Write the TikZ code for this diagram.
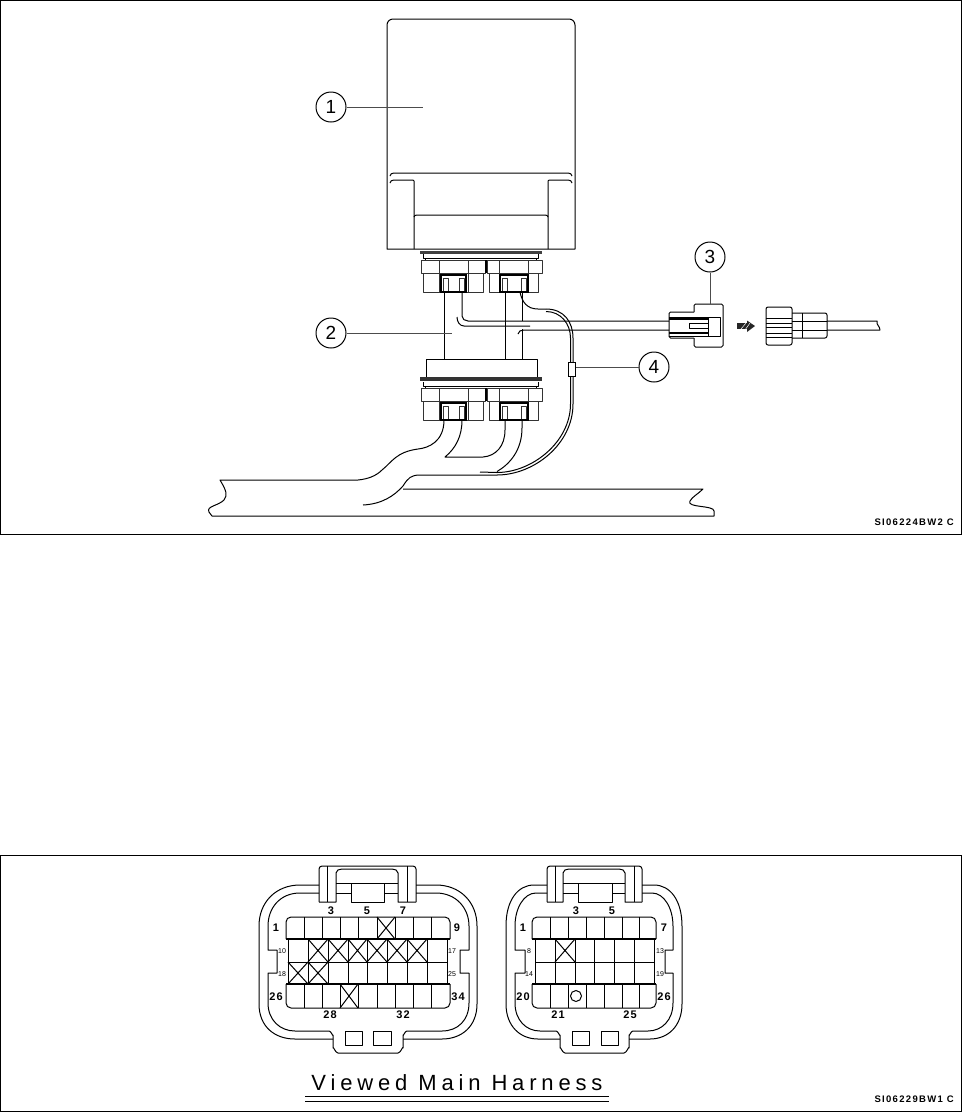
\documentclass[tikz,border=0pt]{standalone}
\usepackage{fontspec}
\setmainfont{Liberation Sans}
\newfontfamily\wideface[LetterSpace=22]{Liberation Sans}
\newfontfamily\codeface[LetterSpace=14]{Liberation Sans}
\newfontfamily\pinface[LetterSpace=10]{Liberation Sans}
\tikzset{
    callout/.style={draw,circle,line width=1pt,minimum size=30pt,inner sep=0pt,font=\fontsize{19}{19}\selectfont},
    leader/.style={line width=1pt,black!70},
    edge/.style={line width=1pt,line join=round},
    heavy/.style={line width=1.2pt},
    pin/.style={inner sep=0pt,font=\pinface\bfseries\fontsize{11}{11}\selectfont},
    tinypin/.style={inner sep=0pt,font=\fontsize{7}{7}\selectfont},
    code/.style={inner sep=0pt,anchor=east,font=\codeface\bfseries\fontsize{9.5}{10}\selectfont}
}
% one half of a plug, upper left corner of its collar at x, y
\newcommand{\plughalf}[9]{
    \draw[edge,black!80] (#1,#5) rectangle (#2,#5+13);
    \draw[edge,black!80] (#3,#5+13) -- (#3,#5+32) -- (#4,#5+32) -- (#4,#5+13);
    \draw[edge,black!80] (#6,#5) -- (#6,#5+32);
    \draw[edge,black!80] (#7,#5) -- (#7,#5+32);
    \draw[heavy] (#8,#5+15) rectangle (#9,#5+32);
    \draw[edge,black!80] (#8+2,#5+32) -- (#8+2,#5+18) -- (#8+7,#5+18) -- (#8+7,#5+32);
    \draw[edge,black!80] (#9-2,#5+32) -- (#9-2,#5+18) -- (#9-7,#5+18) -- (#9-7,#5+32);
    \draw[line width=1.8pt] (#8,#5+32) -- (#9,#5+32);
}
\begin{document}
\begin{tikzpicture}[x=1pt,y=-1pt]
\useasboundingbox (0,0) rectangle (962,1112);
% frames
\draw[line width=1pt] (0.5,0.5) rectangle (961,534);
\draw[line width=1pt] (0.5,855) rectangle (961,1111);

% unit
\draw[edge] (387,249) -- (387,25) to[out=90,in=180] (393,19) -- (569,19) to[out=0,in=90] (575,25) -- (575,249) -- cycle;
\draw[edge] (390,176) to[out=90,in=180] (394,173) -- (568,173) to[out=0,in=90] (572,176);
\draw[edge] (390,183) to[out=90,in=180] (394,180) -- (413,180);
\draw[edge] (572,183) to[out=90,in=0] (568,180) -- (549,180);
\draw[edge] (414,249) -- (414,181) to[out=90,in=0] (413,180);
\draw[edge] (548,249) -- (548,181) to[out=90,in=180] (549,180);
\draw[edge] (414,217) to[out=90,in=180] (417,215) -- (545,215) to[out=0,in=90] (548,217);
\draw[line width=3pt,black!75] (420,252) -- (542,252);
\draw[edge] (423,254) -- (423,258) -- (538,258) -- (538,254);
\draw[edge] (425,258) -- (425,260);
\draw[edge] (536,258) -- (536,260);

% upper plugs
\plughalf{421}{485}{423}{483}{260}{439}{468}{441}{466}
\plughalf{487}{542}{489}{538}{260}{499}{528}{500}{528}
\draw[line width=1.6pt] (486,260) -- (486,273);

% wires between the plugs
\draw[edge] (444,292) -- (444,359);
\draw[edge] (505,292) -- (505,359);
\draw[edge] (462,292) -- (462,316) to[out=-90,in=180] (468,321) -- (669,321);
\draw[edge] (457,317) to[out=-90,in=180] (464,326) -- (530,326);
\draw[edge] (522,292) -- (522,321);
\draw[edge] (518,334) to[out=90,in=180] (524,330) -- (669,330);
\draw[edge] (522,329) -- (522,359);

% lower plugs
\draw[edge] (426,377) -- (426,359) -- (537,359) -- (537,377);
\draw[line width=3.4pt,black!80] (420,379) -- (542,379);
\draw[edge] (423,382) -- (423,386) -- (538,386) -- (538,382);
\draw[edge] (425,386) -- (425,388);
\draw[edge] (536,386) -- (536,388);
\plughalf{421}{485}{423}{483}{388}{439}{468}{441}{466}
\plughalf{487}{542}{489}{538}{388}{499}{528}{500}{528}
\draw[line width=1.6pt] (486,388) -- (486,401);

% harness
\draw[edge] (444,420) .. controls (444,442) and (428,448) .. (418,449)
    .. controls (396,452) and (392,462) .. (382,470)
    .. controls (376,476) and (368,479) .. (358,480) -- (220,480)
    .. controls (226,490) and (228,495) .. (224,500)
    .. controls (218,506) and (206,506) .. (209,512) -- (212,516) -- (714,516) -- (714,511)
    .. controls (714,505) and (686,508) .. (690,501)
    .. controls (692,497) and (698,494) .. (703,489) -- (403,489);
\draw[edge] (363,505) .. controls (382,504) and (394,496) .. (403,486)
    .. controls (408,478) and (411,475) .. (420,475) -- (497,475);
\draw[edge] (462,420) .. controls (462,436) and (456,448) .. (445,457) -- (483,457)
    .. controls (496,456) and (505,446) .. (505,430) -- (505,420);
\draw[edge] (522,420) -- (522,428) .. controls (522,450) and (510,464) .. (497,471.5);

% thin wire with its sleeve
\draw[edge] (520,292) .. controls (522,302) and (527,309) .. (538,309) -- (546,309);
\draw[edge] (546,309) .. controls (564,309) and (573,322) .. (573,338) -- (573,362);
\draw[edge] (546,311.5) .. controls (561,311.5) and (570.5,324) .. (570.5,338) -- (570.5,362);
\draw[edge] (573,376) -- (573,404) .. controls (573,444) and (534,475) .. (497,475);
\draw[edge] (570.5,376) -- (570.5,404) .. controls (570.5,442) and (532,472.5) .. (497,472.5) -- (480,472);
\node[draw,line width=1pt,minimum width=7pt,minimum height=14pt,inner sep=0pt] (sleeve) at (571.5,369) {};

% connector being pulled apart
\draw[edge,rounded corners=1.5pt] (694,312) -- (669,312) -- (669,338) -- (694,338);
\draw[edge,rounded corners=1.5pt] (694,312) -- (694,304) -- (723,304) -- (723,347) -- (694,347) -- (694,338);
\draw[edge] (669,317) -- (720,317) -- (720,336) -- (669,336);
\draw[line width=1.6pt] (669,319) -- (708,319);
\draw[line width=1.6pt] (669,333) -- (708,333);
\draw[edge] (708,317) -- (708,336);
\draw[edge] (708,323) -- (689,323) -- (689,328) -- (708,328);
\node[fill=black!85,inner sep=0pt,minimum width=11pt,minimum height=6pt] (arrowtail) at (742.5,326) {};
\fill[black!85] (747,320.5) -- (755,326) -- (747,332) -- cycle;
\draw[white,line width=0.5pt] (741,329) -- (746,323) (745,330) -- (750,323);

\draw[edge,rounded corners=2pt] (766,307) rectangle (792,345);
\foreach \ribY in {318,323,327,333,337}
    \draw[edge] (766,\ribY) -- (792,\ribY);
\draw[edge,rounded corners=2pt] (792,313) -- (827,313) -- (827,338) -- (792,338);
\draw[edge] (802,313) -- (802,338);
\draw[edge] (792,321) -- (827,321);
\draw[edge] (792,330) -- (827,330);
\draw[edge] (827,321) -- (877,321) .. controls (876,325) and (880,326) .. (880,330) -- (827,330);

% callouts
\node[callout] (one) at (331,107) {1};
\coordinate (oneend) at (423,107);
\draw[leader] (one) -- (oneend);
\node[callout] (two) at (331,333) {2};
\coordinate (twoend) at (452,333);
\draw[leader] (two) -- (twoend);
\node[callout] (three) at (710,257) {3};
\coordinate (threeend) at (710,304);
\draw[leader] (three) -- (threeend);
\node[callout] (four) at (654,367) {4};
\draw[leader] (four) -- (sleeve.east |- four);

\node[code] (codetop) at (954,522) {SI06224BW2 C};

% left socket
\draw[edge] (319,885) -- (300,885) .. controls (276,885) and (259,902) .. (259,926) -- (259,1004)
    .. controls (259,1026) and (274,1039) .. (295,1039) -- (333,1039);
\draw[edge] (319,893) -- (300,893) .. controls (280,893) and (268,908) .. (268,926) -- (268,950) -- (277,950) -- (277,973) -- (268,973) -- (268,1003)
    .. controls (268,1020) and (280,1031) .. (295,1031) -- (329,1031) to[out=0,in=-90] (333,1035) -- (333,1048) to[out=90,in=180] (338,1053)
    -- (398,1053) to[out=0,in=90] (403,1048) -- (403,1035) to[out=-90,in=180] (407,1031) -- (442,1031)
    .. controls (458,1031) and (469,1020) .. (469,1003) -- (469,973) -- (460,973) -- (460,950) -- (469,950) -- (469,926)
    .. controls (469,908) and (456,893) .. (436,893) -- (416,893);
\draw[edge] (403,1039) -- (442,1039) .. controls (462,1039) and (477,1026) .. (477,1004) -- (477,926)
    .. controls (477,902) and (460,885) .. (436,885) -- (416,885);
% latch of the left socket
\draw[edge,rounded corners=3pt] (319,902) -- (319,866) -- (416,866) -- (416,902);
\draw[edge] (319,902) -- (336,902) -- (336,873) to[out=90,in=180] (342,869) -- (392,869) to[out=0,in=90] (398,873) -- (398,902) -- (416,902);
\draw[edge] (327,866) -- (327,902);
\draw[edge] (407,866) -- (407,902);
\draw[edge] (336,883) -- (398,883);
\draw[edge] (351,883) -- (351,902) -- (384,902) -- (384,883);
\draw[edge] (336,893) -- (351,893);
\draw[edge] (384,893) -- (398,893);
\draw[edge] (345,1031) rectangle (362,1045);
\draw[edge] (373,1031) rectangle (391,1045);
% cavities of the left socket
\draw[edge,rounded corners=5pt] (286,939) -- (286,917) -- (450,917) -- (450,939);
\draw[edge,rounded corners=5pt] (286,984) -- (286,1008) -- (450,1008) -- (450,984);
\draw[heavy] (286,939) -- (450,939);
\draw[heavy] (286,984) -- (450,984);
\draw[edge] (288,939) rectangle (447,984);
\draw[edge] (288,962) -- (447,962);
\foreach \cellX in {304,322,340,358,377,395,413,431} {
    \draw[edge] (\cellX,917) -- (\cellX,939);
    \draw[edge] (\cellX,984) -- (\cellX,1008);
}
\foreach \cellX in {308,328,348,367,387,407,427}
    \draw[edge] (\cellX,939) -- (\cellX,984);
\draw[edge] (377,917) -- (395,939) (395,917) -- (377,939);
\foreach \cellA/\cellB in {308/328,328/348,348/367,367/387,387/407,407/427}
    \draw[edge] (\cellA,939) -- (\cellB,962) (\cellB,939) -- (\cellA,962);
\foreach \cellA/\cellB in {288/308,308/328}
    \draw[edge] (\cellA,962) -- (\cellB,984) (\cellB,962) -- (\cellA,984);
\draw[edge] (340,984) -- (358,1008) (358,984) -- (340,1008);
\foreach \labX/\labY/\labT in {331/911/3,367/911/5,403/911/7,276/928/1,457/928/9,276/997/26,458/997/34,330/1015/28,403/1015/32}
    \node[pin] (left\labT) at (\labX,\labY) {\labT};
\foreach \labX/\labY/\labT in {282/951/10,282/974/18,452/951/17,452/974/25}
    \node[tinypin] (left\labT) at (\labX,\labY) {\labT};

% right socket
\draw[edge] (547,885) -- (534,885) .. controls (518,885) and (506,900) .. (506,926) -- (506,1004)
    .. controls (506,1026) and (520,1039) .. (538,1039) -- (560,1039);
\draw[edge] (547,893) -- (536,893) .. controls (524,893) and (515,908) .. (515,926) -- (515,950) -- (525,950) -- (525,973) -- (515,973) -- (515,1003)
    .. controls (515,1020) and (526,1031) .. (540,1031) -- (556,1031) to[out=0,in=-90] (560,1035) -- (560,1048) to[out=90,in=180] (565,1053)
    -- (624,1053) to[out=0,in=90] (629,1048) -- (629,1035) to[out=-90,in=180] (633,1031) -- (648,1031)
    .. controls (662,1031) and (673,1020) .. (673,1003) -- (673,973) -- (665,973) -- (665,950) -- (673,950) -- (673,926)
    .. controls (673,908) and (664,893) .. (652,893) -- (642,893);
\draw[edge] (629,1039) -- (650,1039) .. controls (668,1039) and (682,1026) .. (682,1004) -- (682,926)
    .. controls (682,900) and (670,885) .. (654,885) -- (642,885);
% latch of the right socket
\draw[edge,rounded corners=3pt] (547,902) -- (547,866) -- (642,866) -- (642,902);
\draw[edge] (547,902) -- (563,902) -- (563,873) to[out=90,in=180] (569,869) -- (619,869) to[out=0,in=90] (625,873) -- (625,902) -- (642,902);
\draw[edge] (555,866) -- (555,902);
\draw[edge] (634,866) -- (634,902);
\draw[edge] (563,883) -- (625,883);
\draw[edge] (578,883) -- (578,902) -- (612,902) -- (612,883);
\draw[edge] (563,893) -- (578,893);
\draw[edge] (612,893) -- (625,893);
\draw[edge] (572,1031) rectangle (589,1045);
\draw[edge] (601,1031) rectangle (618,1045);
% cavities of the right socket
\draw[edge,rounded corners=5pt] (532,939) -- (532,917) -- (656,917) -- (656,939);
\draw[edge,rounded corners=5pt] (532,984) -- (532,1008) -- (656,1008) -- (656,984);
\draw[heavy] (532,939) -- (656,939);
\draw[heavy] (532,984) -- (656,984);
\draw[edge] (535,939) rectangle (654,984);
\draw[edge] (535,962) -- (654,962);
\foreach \cellX in {550,568,586,604,622,639} {
    \draw[edge] (\cellX,917) -- (\cellX,939);
    \draw[edge] (\cellX,984) -- (\cellX,1008);
}
\foreach \cellX in {555,575,594,614,634}
    \draw[edge] (\cellX,939) -- (\cellX,984);
\draw[edge] (555,939) -- (575,962) (575,939) -- (555,962);
\node[draw,circle,line width=1pt,minimum size=11pt,inner sep=0pt] (mark) at (576,996) {};
\foreach \labX/\labY/\labT in {576/911/3,612/911/5,523/928/1,664/928/7,523/997/20,664/997/26,558/1015/21,630/1015/25}
    \node[pin] (right\labT) at (\labX,\labY) {\labT};
\foreach \labX/\labY/\labT in {529/951/8,529/974/14,660/951/13,660/974/19}
    \node[tinypin] (right\labT) at (\labX,\labY) {\labT};

% caption
\node[inner sep=0pt,font=\wideface\fontsize{22}{22}\selectfont] (caption) at (457,1083) {Viewed Main Harness};
\draw[line width=1pt] (305,1096) -- (609,1096);
\draw[line width=1pt] (305,1101) -- (609,1101);
\node[code] (codebottom) at (954,1099) {SI06229BW1 C};
\end{tikzpicture}
\end{document}
